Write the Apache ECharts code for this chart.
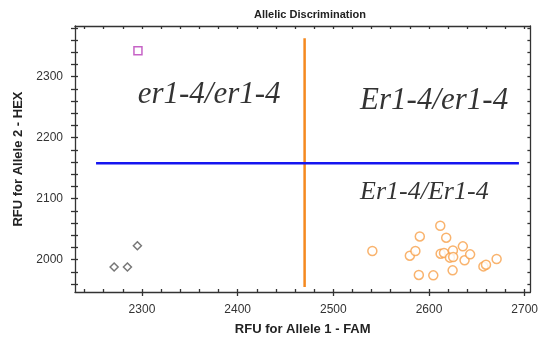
<!DOCTYPE html>
<html>
<head>
<meta charset="utf-8">
<script src="https://cdn.jsdelivr.net/npm/echarts@6/dist/echarts.min.js"></script>
<style>html,body{margin:0;padding:0;background:#fff}#c{width:541px;height:345px}</style>
</head>
<body>
<div id="c"></div>
<script>
var xTickLabels = [2300, 2400, 2500, 2600, 2700];
var yTickLabels = [2000, 2100, 2200, 2300];
var homoAllele1 = [[2540.8, 2014.2], [2580, 2006.5], [2585.8, 2014.2], [2590.4, 2038.1], [2589.4, 1975], [2604.5, 1974.3], [2611.8, 2055.6], [2618, 2036], [2612.2, 2009.8], [2615.7, 2011], [2625, 2015.2], [2621.9, 2003.3], [2625.3, 2004.4], [2624.7, 1982.5], [2635.4, 2021.8], [2637.2, 1998.9], [2643, 2008.7], [2656.9, 1989], [2659.6, 1991.8], [2670.7, 2001.1]];
var ntcPoints = [[2295.2, 2022.9], [2270.9, 1988], [2284.8, 1988]];
var undetermined = [[2295.8, 2342.5]];
var verticalDivider = [[2470, 2363], [2470, 1955]];
var horizontalDivider = [[2252, 2158], [2694, 2158]];
var quadrantLabels = [
  { name: 'er1-4/er1-4', value: [2295.5, 2270], size: 31 },
  { name: 'Er1-4/er1-4', value: [2528, 2260], size: 31 },
  { name: 'Er1-4/Er1-4', value: [2528, 2111], size: 26 }
];

function range(a, b, s) { var r = []; for (var v = a; v <= b; v += s) r.push(v); return r; }
var xMinor = range(2240, 2700, 20);
var yMinor = range(1960, 2380, 20);
var XMIN = 2230, XMAX = 2706, YMIN = 1947, YMAX = 2383;
var lineStyle = { color: '#333', width: 1.3 };
function plain(v) { return String(v); }

var chart = echarts.init(document.getElementById('c'));
chart.setOption({
  animation: false,
  title: { text: 'Allelic Discrimination', left: 305, top: 4, textAlign: 'center',
    textStyle: { fontFamily: 'Liberation Sans', fontSize: 11, fontWeight: 'bold', color: '#222' } },
  grid: { left: 75, top: 26, right: 8, bottom: 53 },
  xAxis: [
    { type: 'value', min: XMIN, max: XMAX, position: 'bottom',
      name: 'RFU for Allele 1 - FAM', nameLocation: 'middle', nameGap: 31,
      nameTextStyle: { fontFamily: 'Liberation Sans', fontSize: 13, fontWeight: 'bold', color: '#222' },
      axisLine: { show: true, lineStyle: lineStyle },
      axisTick: { show: true, inside: true, length: 3, customValues: xMinor, lineStyle: lineStyle },
      axisLabel: { show: true, customValues: xTickLabels, formatter: plain, margin: 12, fontFamily: 'Liberation Sans', fontSize: 12, color: '#333' },
      splitLine: { show: false } },
    { type: 'value', min: XMIN, max: XMAX, position: 'bottom',
      axisLine: { show: false },
      axisTick: { show: true, inside: false, length: 4, customValues: xTickLabels, lineStyle: lineStyle },
      axisLabel: { show: false }, splitLine: { show: false } },
    { type: 'value', min: XMIN, max: XMAX, position: 'top',
      axisLine: { show: true, lineStyle: lineStyle },
      axisTick: { show: true, inside: true, length: 3, customValues: xMinor, lineStyle: lineStyle },
      axisLabel: { show: false }, splitLine: { show: false } }
  ],
  yAxis: [
    { type: 'value', min: YMIN, max: YMAX, position: 'left',
      name: 'RFU for Allele 2 - HEX', nameLocation: 'middle', nameGap: 47,
      nameTextStyle: { fontFamily: 'Liberation Sans', fontSize: 13, fontWeight: 'bold', color: '#222' },
      axisLine: { show: true, lineStyle: lineStyle },
      axisTick: { show: true, inside: true, length: 3, customValues: yMinor, lineStyle: lineStyle },
      axisLabel: { show: true, customValues: yTickLabels, formatter: plain, margin: 12, fontFamily: 'Liberation Sans', fontSize: 12, color: '#333' },
      splitLine: { show: false } },
    { type: 'value', min: YMIN, max: YMAX, position: 'left',
      axisLine: { show: false },
      axisTick: { show: true, inside: false, length: 4, customValues: yMinor, lineStyle: lineStyle },
      axisLabel: { show: false }, splitLine: { show: false } },
    { type: 'value', min: YMIN, max: YMAX, position: 'right',
      axisLine: { show: true, lineStyle: lineStyle },
      axisTick: { show: true, inside: true, length: 3, customValues: yMinor, lineStyle: lineStyle },
      axisLabel: { show: false }, splitLine: { show: false } }
  ],
  series: [
    { type: 'line', data: verticalDivider, symbol: 'none', silent: true,
      lineStyle: { color: '#F5891F', width: 2.5 } },
    { type: 'line', data: horizontalDivider, symbol: 'none', silent: true,
      lineStyle: { color: '#1515F0', width: 2.5 } },
    { type: 'scatter', data: homoAllele1, symbol: 'circle', symbolSize: 9,
      itemStyle: { color: '#fff', borderColor: '#F7A04A', borderWidth: 1.5 } },
    { type: 'scatter', data: ntcPoints, symbol: 'diamond', symbolSize: 8,
      itemStyle: { color: '#fff', borderColor: '#555', borderWidth: 1.5 } },
    { type: 'scatter', data: undetermined, symbol: 'rect', symbolSize: 8,
      itemStyle: { color: '#fff', borderColor: '#B83CB8', borderWidth: 1.5 } },
    { type: 'scatter', silent: true, symbolSize: 0,
      data: quadrantLabels.map(function (d) {
        return { name: d.name, value: d.value, label: { fontSize: d.size } };
      }),
      label: { show: true, position: 'inside', formatter: '{b}', align: 'left', verticalAlign: 'middle',
        fontFamily: 'Liberation Serif', fontStyle: 'italic', color: '#000' } }
  ]
});
</script>
</body>
</html>
